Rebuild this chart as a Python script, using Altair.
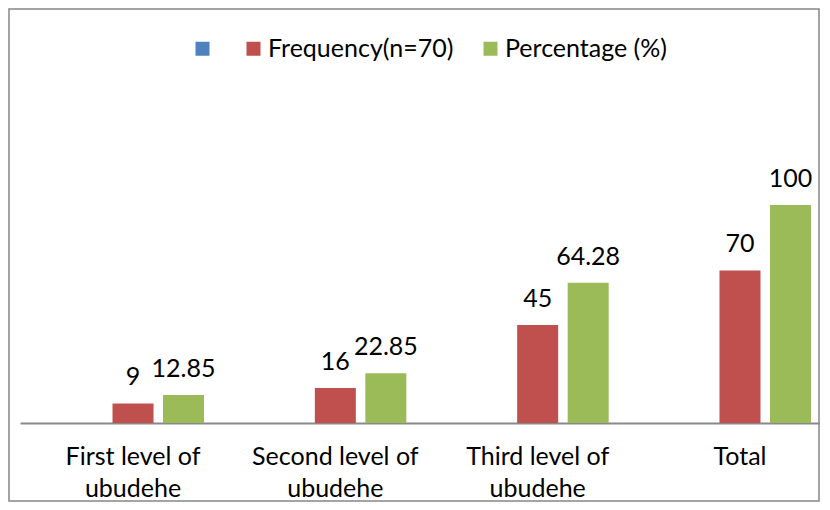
import altair as alt
import pandas as pd

categories = ["First level of ubudehe", "Second level of ubudehe", "Third level of ubudehe", "Total"]
series_names = [" ", "Frequency(n=70)", "Percentage (%)"]
series_colors = ["#4F81BD", "#C0504D", "#9BBB59"]
frequency = [9, 16, 45, 70]
frequency_labels = ["9", "16", "45", "70"]
percentage = [12.85, 22.85, 64.28, 100]
percentage_labels = ["12.85", "22.85", "64.28", "100"]

rows = []
for c, v, l in zip(categories, frequency, frequency_labels):
    rows.append({"category": c, "series": series_names[1], "value": v, "label": l})
for c, v, l in zip(categories, percentage, percentage_labels):
    rows.append({"category": c, "series": series_names[2], "value": v, "label": l})
df = pd.DataFrame(rows)

FONT = "Lato"
FS = 25

x_enc = alt.X(
    "category:N",
    sort=categories,
    scale=alt.Scale(domain=categories, range=[11, 844], paddingInner=0, paddingOuter=0.0586),
    axis=alt.Axis(
        title=None, orient="bottom", offset=-78, domainColor="#898989", domainWidth=2,
        ticks=False, grid=False, labelAngle=0, labelFont=FONT, labelFontSize=FS,
        labelColor="#000000", labelPadding=21, labelLineHeight=32,
        labelExpr="datum.label == 'Total' ? 'Total' : [replace(datum.label, ' ubudehe', ''), 'ubudehe']",
    ),
)
xoff_enc = alt.XOffset("series:N", scale=alt.Scale(domain=series_names, paddingInner=0.188, paddingOuter=0.597))
y_scale = alt.Scale(domain=[-35.78, 189.9], nice=False, zero=False)

base = alt.Chart(df).encode(x=x_enc, xOffset=xoff_enc)

bars = base.mark_bar().encode(
    y=alt.Y("value:Q", scale=y_scale, axis=None, stack=None),
    y2=alt.datum(0),
    color=alt.Color(
        "series:N",
        scale=alt.Scale(domain=series_names, range=series_colors),
        legend=alt.Legend(
            title=None, orient="none", legendX=181, legendY=27, direction="horizontal",
            symbolType="square", symbolSize=196, symbolStrokeWidth=0,
            labelFont=FONT, labelFontSize=FS, labelColor="#000000", labelOffset=2,
            columnPadding=24, labelLimit=400, padding=0,
            labelExpr="datum.label == ' ' ? '' : datum.label",
        ),
    ),
)

texts = base.mark_text(baseline="alphabetic", dy=-18, font=FONT, fontSize=FS, color="#000000").encode(
    y=alt.Y("value:Q", scale=y_scale, axis=None, stack=None),
    text="label:N",
)

chart = (
    alt.layer(bars, texts)
    .properties(
        width=810, height=492,
        padding={"left": 1, "top": 1, "right": 1, "bottom": 1},
        autosize=alt.AutoSizeParams(type="none"),
        background="#ffffff",
    )
    .configure_view(stroke="#868686", strokeWidth=1.5)
)

chart.save("out.html", embed_options={"renderer": "svg", "actions": False})
